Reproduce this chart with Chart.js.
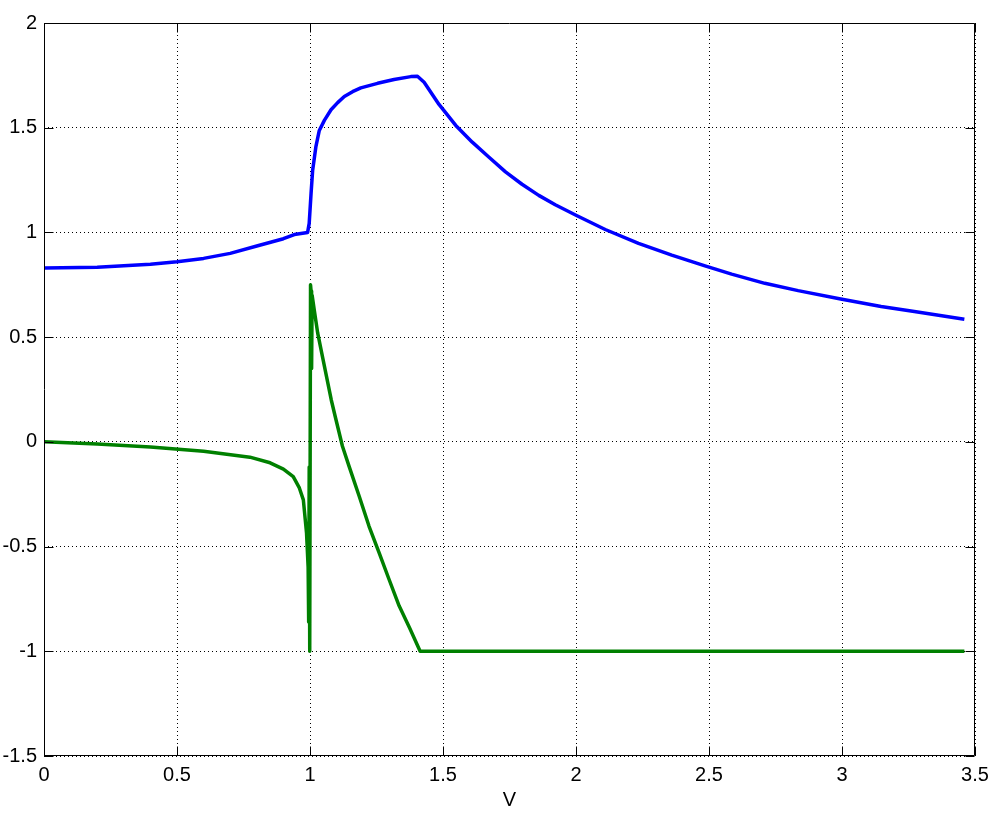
<!DOCTYPE html>
<html>
<head>
<meta charset="utf-8">
<script src="https://cdn.jsdelivr.net/npm/chart.js@4/dist/chart.umd.min.js"></script>
<style>
  html, body { margin: 0; padding: 0; background: #ffffff; }
  canvas { display: block; }
</style>
</head>
<body>
<canvas id="c" width="1001" height="820"></canvas>
<script>
// ---- data ----
const blueV = [0, 0.2, 0.4, 0.5, 0.6, 0.7, 0.8, 0.9, 0.941, 0.991, 0.997, 1.004, 1.010, 1.022, 1.035, 1.054, 1.079, 1.104, 1.129, 1.16, 1.191, 1.254, 1.316, 1.379, 1.404, 1.429, 1.485, 1.548, 1.610, 1.672, 1.735, 1.797, 1.860, 1.922, 2.0, 2.11, 2.235, 2.36, 2.485, 2.585, 2.71, 2.835, 2.995, 3.147, 3.272, 3.46];
const blueY = [0.83, 0.834, 0.848, 0.86, 0.876, 0.9, 0.935, 0.97, 0.99, 1.0, 1.043, 1.186, 1.297, 1.408, 1.487, 1.535, 1.586, 1.62, 1.649, 1.672, 1.690, 1.712, 1.730, 1.744, 1.746, 1.717, 1.611, 1.511, 1.431, 1.360, 1.289, 1.230, 1.177, 1.132, 1.082, 1.014, 0.948, 0.892, 0.840, 0.801, 0.757, 0.722, 0.682, 0.646, 0.622, 0.585];

const greenV = [0, 0.2, 0.4, 0.6, 0.774, 0.85, 0.9, 0.937, 0.96, 0.975, 0.987, 0.993, 0.995, 0.997, 0.999, 1.002, 1.004, 1.006, 1.008, 1.016, 1.029, 1.048, 1.08, 1.095, 1.122, 1.147, 1.185, 1.222, 1.26, 1.297, 1.335, 1.375, 1.414, 2.0, 2.5, 3.0, 3.46];
const greenY = [0, -0.01, -0.025, -0.045, -0.073, -0.1, -0.13, -0.166, -0.22, -0.277, -0.436, -0.6, -0.86, -0.12, -1.0, 0.75, 0.72, 0.35, 0.7, 0.63, 0.519, 0.40, 0.2, 0.12, -0.021, -0.117, -0.26, -0.403, -0.53, -0.656, -0.783, -0.89, -1.0, -1.0, -1.0, -1.0, -1.0];

const xTicks = [0, 0.5, 1, 1.5, 2, 2.5, 3, 3.5];
const yTicks = [-1.5, -1, -0.5, 0, 0.5, 1, 1.5, 2];
const xLabel = 'V';

// ---- chart ----
const pts = (xs, ys) => xs.map((v, i) => ({ x: v, y: ys[i] }));
const FONT = { family: '"Liberation Sans", Arial, Helvetica, sans-serif', size: 20 };

const framePlugin = {
  id: 'frame',
  afterDraw(chart) {
    const { ctx, chartArea: a, scales } = chart;
    const L = Math.round(a.left) + 0.5, R = Math.round(a.right) - 0.5;
    const T = Math.round(a.top) + 0.5, B = Math.round(a.bottom) - 0.5;
    ctx.save();
    ctx.strokeStyle = '#000';
    ctx.lineWidth = 1;
    ctx.setLineDash([]);
    ctx.beginPath();
    ctx.rect(L, T, R - L, B - T);
    const len = 9;
    xTicks.forEach(v => {
      const p = Math.round(scales.x.getPixelForValue(v)) + 0.5;
      ctx.moveTo(p, B); ctx.lineTo(p, B - len);
      ctx.moveTo(p, T); ctx.lineTo(p, T + len);
    });
    yTicks.forEach(v => {
      const p = Math.round(scales.y.getPixelForValue(v)) + 0.5;
      ctx.moveTo(L, p); ctx.lineTo(L + len, p);
      ctx.moveTo(R, p); ctx.lineTo(R - len, p);
    });
    ctx.stroke();
    ctx.restore();
  }
};

new Chart(document.getElementById('c'), {
  type: 'line',
  data: {
    datasets: [
      { data: pts(blueV, blueY), borderColor: '#0000ff', borderWidth: 3.5, pointRadius: 0, tension: 0, fill: false, borderJoinStyle: 'round' },
      { data: pts(greenV, greenY), borderColor: '#008000', borderWidth: 3.5, pointRadius: 0, tension: 0, fill: false, borderJoinStyle: 'round' }
    ]
  },
  options: {
    responsive: false,
    animation: false,
    layout: { padding: { left: 0, right: 26, top: 23, bottom: 0 } },
    plugins: { legend: { display: false }, tooltip: { enabled: false } },
    scales: {
      x: {
        type: 'linear',
        min: 0, max: 3.5,
        afterBuildTicks: s => { s.ticks = xTicks.map(v => ({ value: v })); },
        afterFit: s => { s.height = 64; },
        ticks: { font: FONT, color: '#000', padding: 7, maxRotation: 0, callback: v => String(v) },
        grid: { color: '#000', lineWidth: 1, drawTicks: false, borderDash: [1, 3] },
        border: { display: false, dash: [1, 3] },
        title: { display: true, text: xLabel, font: FONT, color: '#000', padding: { top: 0, bottom: 8 } }
      },
      y: {
        type: 'linear',
        min: -1.5, max: 2,
        afterBuildTicks: s => { s.ticks = yTicks.map(v => ({ value: v })); },
        afterFit: s => { s.width = 44; },
        ticks: { font: FONT, color: '#000', padding: 7, callback: v => String(v) },
        grid: { color: '#000', lineWidth: 1, drawTicks: false, borderDash: [1, 3] },
        border: { display: false, dash: [1, 3] }
      }
    }
  },
  plugins: [framePlugin]
});
</script>
</body>
</html>
